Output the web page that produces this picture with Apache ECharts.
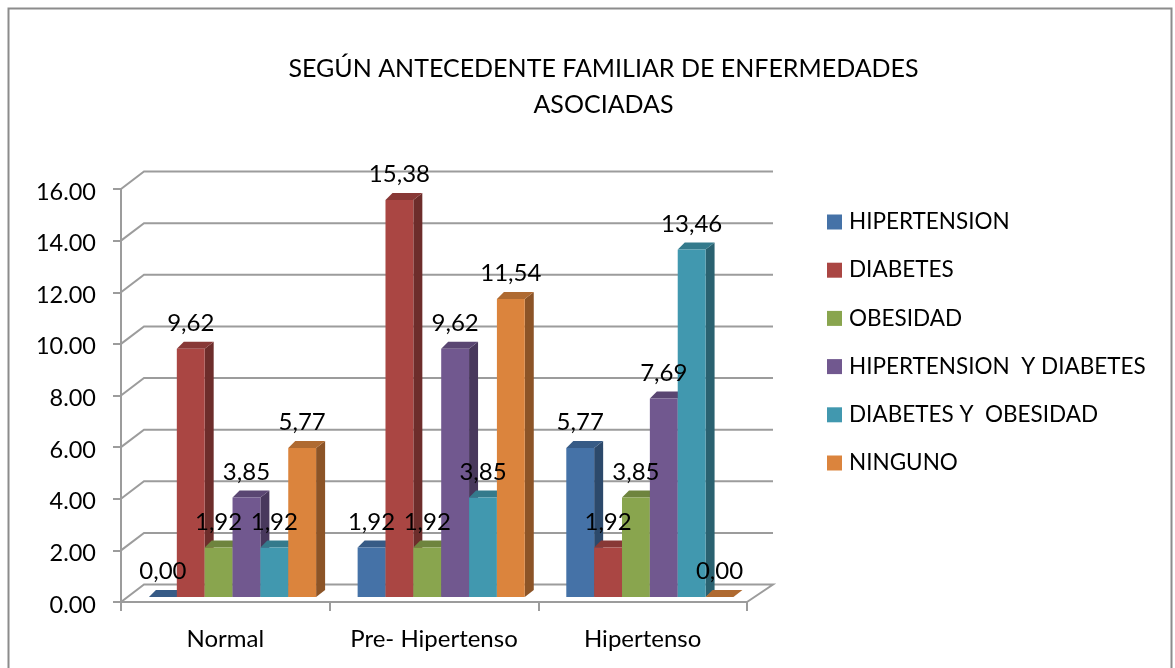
<!DOCTYPE html>
<html><head><meta charset="utf-8">
<style>html,body{margin:0;padding:0;background:#fff}#c{width:1175px;height:668px}</style>
<script src="https://cdn.jsdelivr.net/npm/echarts@6/dist/echarts.min.js"></script>
</head><body><div id="c"></div>
<script>
const categories = ['Normal', 'Pre- Hipertenso', 'Hipertenso'];
const seriesNames = ['HIPERTENSION', 'DIABETES', 'OBESIDAD', 'HIPERTENSION  Y DIABETES', 'DIABETES Y  OBESIDAD', 'NINGUNO'];
const hipertension = [0.00, 1.92, 5.77];
const diabetes = [9.62, 15.38, 1.92];
const obesidad = [1.92, 1.92, 3.85];
const hiperDiabetes = [3.85, 9.62, 7.69];
const diabetesObesidad = [1.92, 3.85, 13.46];
const ninguno = [5.77, 11.54, 0.00];
const yTicks = [0, 2, 4, 6, 8, 10, 12, 14, 16];
const titleText = 'SEGÚN ANTECEDENTE FAMILIAR DE ENFERMEDADES\nASOCIADAS';

const allValues = [hipertension, diabetes, obesidad, hiperDiabetes, diabetesObesidad, ninguno];
const colors = ['#4572A7', '#AA4643', '#89A54E', '#71588F', '#4198AF', '#DB843D'];
const FONT = 'Lato, Carlito, Calibri, sans-serif';
const GRAY = '#9c9c9c';

function shade(hex, f) {
  const n = parseInt(hex.slice(1), 16);
  const c = s => Math.round(((n >> s) & 255) * f);
  return 'rgb(' + c(16) + ',' + c(8) + ',' + c(0) + ')';
}

const gridSeries = {
  type: 'custom', silent: true, z: 1, clip: false,
  data: yTicks.map(v => [0, v]),
  encode: { x: 0, y: 1 },
  renderItem(params, api) {
    const cs = params.coordSys;
    const y = api.coord([0, api.value(1)])[1];
    const pts = [[cs.x, y], [cs.x + 23, y - 17.5], [cs.x + cs.width + 26, y - 17.5]];
    if (api.value(1) === 0) pts.push([cs.x + cs.width, y]);
    return { type: 'polyline', shape: { points: pts },
      style: { stroke: GRAY, lineWidth: 2, fill: null } };
  }
};

const barSeries = seriesNames.map((name, s) => ({
  type: 'custom', name, z: 2, clip: false,
  itemStyle: { color: colors[s] },
  data: allValues[s].map((v, i) => [i, v]),
  encode: { x: 0, y: 1 },
  renderItem(params, api) {
    const i = api.value(0), v = api.value(1);
    const top = api.coord([i, v]), base = api.coord([i, 0]);
    const bw = api.size([1, 0])[0] * 0.1335;
    const x0 = top[0] + 7.2 + (s - 3) * bw, x1 = x0 + bw;
    const yT = top[1] - 5, yB = base[1] - 5;
    const dx = 9, dy = -7;
    const col = colors[s];
    const kids = [
      { type: 'polygon', shape: { points: [[x1, yT], [x1 + dx, yT + dy], [x1 + dx, yB + dy], [x1, yB]] },
        style: { fill: shade(col, 0.64) } },
      { type: 'polygon', shape: { points: [[x0, yT], [x0 + dx - 2, yT + dy], [x1 + dx, yT + dy], [x1, yT]] },
        style: { fill: shade(col, 0.8) } },
      { type: 'rect', shape: { x: x0, y: yT, width: bw, height: yB - yT },
        style: { fill: col } },
      { type: 'text', z2: 100, x: (x0 + x1) / 2, y: yT - 25.5,
        style: { text: v.toFixed(2).replace('.', ','), fill: '#000', font: '24px ' + FONT,
          align: 'center', verticalAlign: 'middle' } }
    ];
    return { type: 'group', children: kids };
  }
}));

const chart = echarts.init(document.getElementById('c'), null, { renderer: 'canvas' });
chart.setOption({
  animation: false,
  backgroundColor: '#fff',
  title: { text: titleText, left: 598.5, top: 46, textAlign: 'center',
    textStyle: { fontFamily: FONT, fontSize: 25, fontWeight: 'normal', color: '#000', lineHeight: 36 } },
  grid: { left: 121, top: 189, width: 626, height: 413 },
  legend: { orient: 'vertical', left: 827, top: 208, padding: 0, itemWidth: 15, itemHeight: 15, itemGap: 20.2, icon: 'rect',
    data: seriesNames, selectedMode: false,
    textStyle: { fontFamily: FONT, fontSize: 22.5, color: '#000', lineHeight: 28, padding: [0, 0, 0, 2] } },
  xAxis: { type: 'category', data: categories,
    axisLine: { lineStyle: { color: GRAY, width: 2 } },
    axisTick: { show: true, length: 9, alignWithLabel: false, lineStyle: { color: GRAY, width: 2 } },
    axisLabel: { margin: 25, interval: 0, fontFamily: FONT, fontSize: 24, color: '#000' } },
  yAxis: { type: 'value', min: 0, max: 16, interval: 2,
    axisLine: { show: true, lineStyle: { color: GRAY, width: 2 } },
    axisTick: { show: true, length: 8, lineStyle: { color: GRAY, width: 2 } },
    splitLine: { show: false },
    axisLabel: { margin: 25, fontFamily: FONT, fontSize: 23.5, color: '#000', verticalAlign: 'top', lineHeight: 6, formatter: v => v.toFixed(2) } },
  graphic: [{ type: 'rect', silent: true, z: 0,
    shape: { x: 8.5, y: 8.5, width: 1163, height: 680 },
    style: { fill: null, stroke: '#8c8c8c', lineWidth: 2 } }],
  series: [gridSeries].concat(barSeries)
});
</script></body></html>
